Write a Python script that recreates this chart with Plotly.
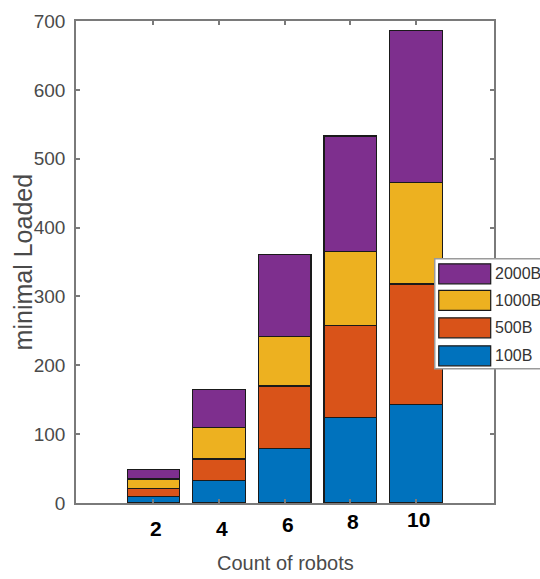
import plotly.graph_objects as go

# ---- data ----
robots = [2, 4, 6, 8, 10]
series_names = ["100B", "500B", "1000B", "2000B"]
load_100B = [9, 33, 79, 124, 143]
load_500B = [12, 31, 91, 134, 175]
load_1000B = [14, 46, 72, 107, 148]
load_2000B = [14, 55, 119, 168, 220]
y_ticks = [0, 100, 200, 300, 400, 500, 600, 700]
x_tick_labels = ["2", "4", "6", "8", "10"]

# ---- style ----
colors = {"100B": "#0072BD", "500B": "#D95319", "1000B": "#EDB120", "2000B": "#7E2F8E"}
values = {"100B": load_100B, "500B": load_500B, "1000B": load_1000B, "2000B": load_2000B}
axis_grey = "#7a7a7a"
text_grey = "#4a4a4a"
sans = "Liberation Sans, Arial, sans-serif"

W, H = 540, 579
L, T = 76, 21
R = W - 494.3
B = H - 503.3
pw, ph = W - L - R, H - T - B

def px_x(x):  # window pixel -> paper x
    return (x - L) / pw

def px_y(y):  # window pixel -> paper y
    return (H - B - y) / ph

fig = go.Figure()
for name in series_names:
    fig.add_trace(go.Bar(
        x=robots, y=values[name], name=name, width=1.6,
        marker=dict(color=colors[name], line=dict(color="#1a1a1a", width=1.2)),
        showlegend=False,
    ))

fig.update_layout(
    width=W, height=H, barmode="stack",
    margin=dict(l=L, r=R, t=T, b=B, pad=0),
    plot_bgcolor="white", paper_bgcolor="white",
    font=dict(family=sans, color=text_grey),
)
fig.update_xaxes(
    range=[-0.36, 12.38], tickvals=robots, showticklabels=False,
    ticks="inside", ticklen=4, tickcolor=axis_grey, tickwidth=1.5,
    showline=True, linecolor=axis_grey, linewidth=1.5, mirror="ticks",
    showgrid=False, zeroline=False,
)
fig.update_yaxes(
    range=[0, 700], tickvals=y_ticks,
    ticks="inside", ticklen=4, tickcolor=axis_grey, tickwidth=1.5,
    showline=True, linecolor=axis_grey, linewidth=1.5, mirror="ticks",
    showgrid=False, zeroline=False,
    tickfont=dict(family=sans, size=19, color=text_grey),
    ticklabelstandoff=5,
)

# x tick labels (bold, slightly staggered as in the original)
label_y_px = [528.7, 528.7, 524.7, 521.7, 520.0]
for xv, lab, ypx in zip(robots, x_tick_labels, label_y_px):
    fig.add_annotation(
        x=xv, xref="x", y=px_y(ypx), yref="paper", text=lab, showarrow=False,
        xanchor="center", yanchor="middle", xshift=3,
        font=dict(family=sans, size=21, color="black", weight="bold"),
    )

# axis titles
fig.add_annotation(
    x=px_x(286), y=px_y(563), xref="paper", yref="paper", text="Count of robots",
    showarrow=False, xanchor="center", yanchor="middle",
    font=dict(family=sans, size=20, color=text_grey),
)
fig.add_annotation(
    x=px_x(22.5), y=px_y(262), xref="paper", yref="paper", text="minimal Loaded",
    showarrow=False, textangle=-90, xanchor="center", yanchor="middle",
    font=dict(family=sans, size=25, color=text_grey),
)

# legend (drawn manually to get the wide MATLAB-style swatches)
fig.add_shape(type="rect", xref="paper", yref="paper",
              x0=px_x(435), x1=px_x(560), y0=px_y(369), y1=px_y(259),
              line=dict(color="#9a9a9a", width=1.5), fillcolor="white", layer="above")
legend_centers = [274, 300.5, 328, 356]
for name, cy in zip(reversed(series_names), legend_centers):
    fig.add_shape(type="rect", xref="paper", yref="paper",
                  x0=px_x(439), x1=px_x(491), y0=px_y(cy + 10), y1=px_y(cy - 10),
                  line=dict(color="#1a1a1a", width=1.2), fillcolor=colors[name], layer="above")
    fig.add_annotation(
        x=px_x(493), y=px_y(cy), xref="paper", yref="paper", text=name,
        showarrow=False, xanchor="left", yanchor="middle",
        font=dict(family=sans, size=16, color="#333333"),
    )

# remove the default page margin so the figure sits at the window's top-left corner
fig.write_html("out.html", config={"displayModeBar": False},
               post_script="document.body.style.margin='0';")
